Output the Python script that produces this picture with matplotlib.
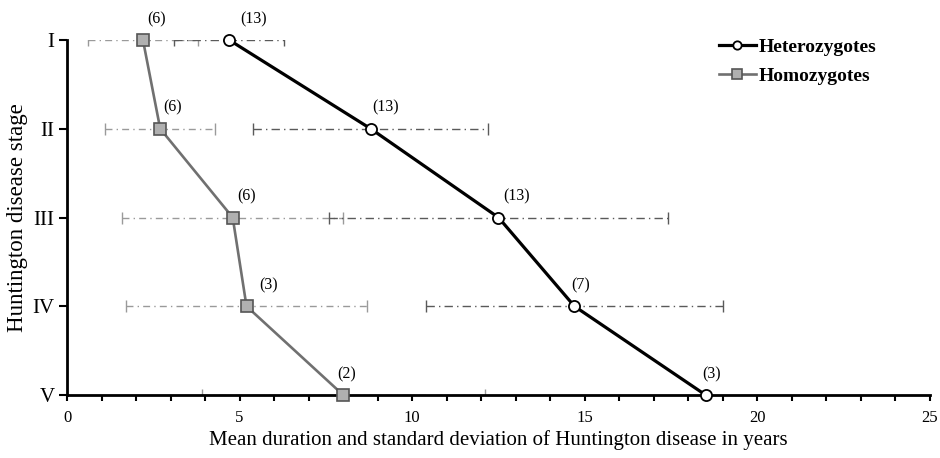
import numpy as np
import matplotlib
matplotlib.use("Agg")
import matplotlib.pyplot as plt
from matplotlib.ticker import MultipleLocator

plt.rcParams['font.family'] = ['Liberation Serif', 'DejaVu Serif']

# data
stages = ['I', 'II', 'III', 'IV', 'V']
het_mean = [4.7, 8.8, 12.5, 14.7, 18.5]
het_sd = [1.6, 3.4, 4.9, 4.3, 0.0]
het_n = [13, 13, 13, 7, 3]
hom_mean = [2.2, 2.7, 4.8, 5.2, 8.0]
hom_sd = [1.6, 1.6, 3.2, 3.5, 4.1]
hom_n = [6, 6, 6, 3, 2]

# horizontal nudges (pixels) for the (n) labels
het_label_dx = [24, 15, 18, 6, 6]
hom_label_dx = [14, 12, 14, 22, 3]

ypos = np.arange(1, len(stages) + 1)
px = 72 / 100  # points per pixel

fig = plt.figure(figsize=(9.4, 4.58), dpi=100)
ax = fig.add_axes([0.0713, 0.1376, 0.918, 0.775])

# standard deviation bars (dash-dot)
eb = ax.errorbar(hom_mean, ypos, xerr=hom_sd, fmt='none', ecolor='#9a9a9a',
                 elinewidth=1.0, capsize=4, capthick=1.0, zorder=1)
eb[2][0].set_linestyle((0, (5, 3, 1, 3)))
eb = ax.errorbar(het_mean[:4], ypos[:4], xerr=het_sd[:4], fmt='none', ecolor='#5a5a5a',
                 elinewidth=1.0, capsize=4, capthick=1.0, zorder=1)
eb[2][0].set_linestyle((0, (6, 3, 1, 3)))

# mean lines
ax.plot(het_mean, ypos, color='black', lw=2.3, marker='o', ms=8,
        mfc='white', mec='black', mew=1.3, label='Heterozygotes',
        clip_on=False, zorder=4)
ax.plot(hom_mean, ypos, color='#707070', lw=1.9, marker='s', ms=9.3,
        mfc='#b0b0b0', mec='#555555', mew=1.2, label='Homozygotes',
        clip_on=False, zorder=3)

# sample sizes
for x, y, n, dx in zip(het_mean, ypos, het_n, het_label_dx):
    ax.annotate(f'({n})', (x, y), xytext=(dx * px, 21 * px), textcoords='offset points',
                ha='center', va='center', fontsize=11.5)
for x, y, n, dx in zip(hom_mean, ypos, hom_n, hom_label_dx):
    ax.annotate(f'({n})', (x, y), xytext=(dx * px, 21 * px), textcoords='offset points',
                ha='center', va='center', fontsize=11.5)

ax.set_xlim(0, 25)
ax.set_ylim(5, 1)
ax.set_yticks(ypos)
ax.set_yticklabels(stages, fontsize=15)
ax.xaxis.set_major_locator(MultipleLocator(5))
ax.xaxis.set_minor_locator(MultipleLocator(1))
ax.tick_params(axis='x', which='both', direction='out', length=4, width=1.5,
               labelsize=12, pad=7)
ax.tick_params(axis='y', direction='out', length=6, width=1.5, pad=3)

for s in ['top', 'right']:
    ax.spines[s].set_visible(False)
for s in ['left', 'bottom']:
    ax.spines[s].set_linewidth(2)

ax.set_xlabel('Mean duration and standard deviation of Huntington disease in years',
              fontsize=15, labelpad=3)
ax.set_ylabel('Huntington disease stage', fontsize=16.5, labelpad=3)

leg = ax.legend(loc='upper left', bbox_to_anchor=(0.755, 1.005), frameon=False,
                borderaxespad=0, borderpad=0,
                prop={'weight': 'bold', 'size': 14}, handlelength=1.95,
                handletextpad=0.1, labelspacing=0.6, markerscale=0.75)

fig.savefig('out.png', dpi=100)
